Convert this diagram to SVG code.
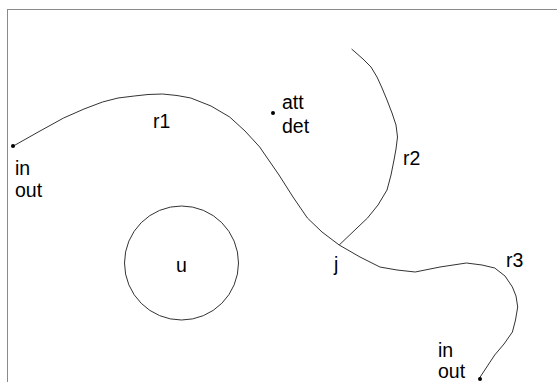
<svg xmlns="http://www.w3.org/2000/svg" width="557" height="382" viewBox="0 0 557 382">
<style>
text{font-family:"Liberation Sans",Arial,sans-serif;font-size:19.5px;fill:#000}
.ln{fill:none;stroke:#333;stroke-width:1;stroke-linejoin:round}
.dot{fill:#000}
</style>
<rect x="0" y="0" width="557" height="382" fill="#fff"/>
<rect x="7.5" y="9.5" width="600" height="400" fill="none" stroke="#8a8a8a" stroke-width="1"/>
<g id="connectors">
<polyline id="r1" class="ln" points="13.4,146 40,131 63.6,118 84,109 102.5,102 118,98 134.3,96 148,94.5 162.5,94 177,95.5 190.8,98 211,106 229.7,117 245,131 259.7,147 279,175 293,197 307.4,218 322,232 339.2,245"/>
<polyline id="r2" class="ln" points="351.6,49 363,59 371,67 377,77 381.6,87 387,100 392,113 396,125 397.5,137 396,149 394,160 391,175 387,190 378,205 367.5,218 339.2,245"/>
<polyline id="r3" class="ln" points="339.2,245 360,257 379.9,267 397,270 415.2,272 440,267 466.4,263 482,265 494.7,268 505,276 512.4,287 516,296 517.7,307 515.5,320 512.4,332 504,344 494.7,355 479.5,378"/>
</g>
<g id="node-left">
<circle class="dot" cx="13" cy="146" r="2"/>
<text x="15" y="175">in</text>
<text x="15" y="197">out</text>
</g>
<g id="label-r1"><text x="153" y="128">r1</text></g>
<g id="node-att">
<circle class="dot" cx="273" cy="113" r="2"/>
<text x="282" y="109">att</text>
<text x="282" y="133">det</text>
</g>
<g id="label-r2"><text x="403" y="165">r2</text></g>
<g id="node-j"><text x="334" y="271">j</text></g>
<g id="node-u">
<circle cx="181.5" cy="263" r="57" fill="none" stroke="#333" stroke-width="1"/>
<text x="176" y="272">u</text>
</g>
<g id="label-r3"><text x="506" y="267">r3</text></g>
<g id="node-bottom">
<circle class="dot" cx="480" cy="379" r="2"/>
<text x="438" y="357">in</text>
<text x="438" y="378">out</text>
</g>
</svg>
